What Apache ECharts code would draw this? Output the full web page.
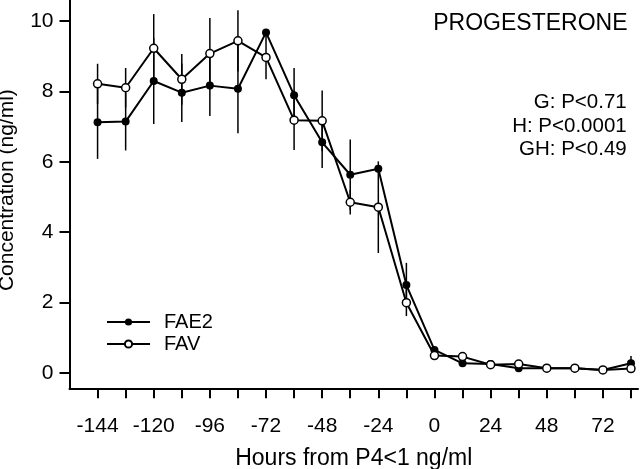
<!DOCTYPE html>
<html><head><meta charset="utf-8">
<script src="https://cdn.jsdelivr.net/npm/echarts@6/dist/echarts.min.js"></script>
<style>html,body{margin:0;padding:0;background:#fff}#c{width:640px;height:469px}</style>
</head><body><div id="c"></div>
<script>
const hours = [-144,-132,-120,-108,-96,-84,-72,-60,-48,-36,-24,-12,0,12,24,36,48,60,72,84];
const fae2 = [7.12,7.14,8.29,7.96,8.16,8.07,9.67,7.89,6.55,5.63,5.80,2.50,0.66,0.28,0.26,0.14,0.14,0.14,0.09,0.28];
const fae2Err = [1.04,0.82,1.22,0.83,0.86,1.26,0.08,0.77,0.73,1.00,0.10,0.63,0.05,0.05,0.05,0.05,0.05,0.05,0.05,0.21];
const fav = [8.21,8.10,9.22,8.34,9.07,9.43,8.96,7.18,7.16,4.85,4.71,2.00,0.50,0.47,0.24,0.26,0.14,0.14,0.09,0.13];
const favErr = [0.57,0.56,0.97,0.72,1.01,0.87,0.62,0.85,0.86,0.35,1.30,0.38,0.05,0.05,0.05,0.05,0.05,0.05,0.05,0.05];
const xTicks = [-144,-132,-120,-108,-96,-84,-72,-60,-48,-36,-24,-12,0,12,24,36,48,60,72,84];
const xLabels = [-144,-120,-96,-72,-48,-24,0,24,48,72];
const yTicks = [0,2,4,6,8,10];
const pTexts = ['G: P<0.71','H: P<0.0001','GH: P<0.49'];

const FONT = 'Liberation Sans, Arial, sans-serif';
function errSeries(vals, errs) {
  return {
    type: 'custom', silent: true, z: 1,
    data: hours.map((h, i) => [h, vals[i] - errs[i], vals[i] + errs[i]]),
    encode: {x: 0, y: [1, 2]},
    renderItem: (params, api) => {
      const a = api.coord([api.value(0), api.value(1)]);
      const b = api.coord([api.value(0), api.value(2)]);
      return {type: 'line', shape: {x1: a[0], y1: a[1], x2: b[0], y2: b[1]},
              style: {stroke: '#000', lineWidth: 1.5}};
    }
  };
}
const chart = echarts.init(document.getElementById('c'), null, {renderer: 'canvas'});
chart.setOption({
  animation: false,
  textStyle: {fontFamily: FONT, color: '#000'},
  grid: {left: 69.5, right: 2, top: 0, bottom: 80.7, containLabel: false, outerBoundsMode: 'none'},
  xAxis: {
    type: 'value', min: -156, max: 87,
    name: 'Hours from P4<1 ng/ml', nameLocation: 'middle', nameGap: 59,
    nameTextStyle: {fontSize: 23, fontFamily: FONT, color: '#000'},
    axisLine: {onZero: false, lineStyle: {color: '#000', width: 2}},
    axisTick: {customValues: xTicks, length: 10, lineStyle: {color: '#000', width: 2}},
    axisLabel: {customValues: xLabels, fontSize: 21, margin: 27, color: '#000', fontFamily: FONT},
    splitLine: {show: false}
  },
  yAxis: {
    type: 'value', min: -0.43, max: 10.59,
    name: 'Concentration (ng/ml)', nameLocation: 'middle', nameGap: 52,
    nameTextStyle: {fontSize: 21, fontFamily: FONT, color: '#000', padding: [0, 0, 0, 8]},
    axisLine: {show: true, onZero: false, lineStyle: {color: '#000', width: 2}},
    axisTick: {show: true, customValues: yTicks, length: 10, lineStyle: {color: '#000', width: 2}},
    axisLabel: {customValues: yTicks, fontSize: 21, margin: 16, color: '#000', fontFamily: FONT},
    splitLine: {show: false}
  },
  legend: {
    data: ['FAE2', 'FAV'], orient: 'vertical', left: 106, top: 312, padding: 0,
    itemWidth: 43, itemHeight: 9, itemGap: 2,
    textStyle: {fontSize: 20, lineHeight: 20, color: '#000', fontFamily: FONT, padding: [0, 0, 0, 9]}
  },
  graphic: [
    {type: 'text', style: {text: 'PROGESTERONE', x: 627.5, y: 24, align: 'right', verticalAlign: 'middle', font: '23px ' + FONT, fill: '#000'}},
    {type: 'text', style: {text: pTexts[0], x: 626.7, y: 102.5, align: 'right', verticalAlign: 'middle', font: '20.5px ' + FONT, fill: '#000'}},
    {type: 'text', style: {text: pTexts[1], x: 626.7, y: 126, align: 'right', verticalAlign: 'middle', font: '20.5px ' + FONT, fill: '#000'}},
    {type: 'text', style: {text: pTexts[2], x: 626.7, y: 149.5, align: 'right', verticalAlign: 'middle', font: '20.5px ' + FONT, fill: '#000'}}
  ],
  series: [
    errSeries(fae2, fae2Err),
    errSeries(fav, favErr),
    {name: 'FAE2', type: 'line', z: 3, data: hours.map((h, i) => [h, fae2[i]]),
     symbol: 'circle', symbolSize: 8, showAllSymbol: true,
     lineStyle: {color: '#000', width: 2}, itemStyle: {color: '#000', borderWidth: 0}},
    {name: 'FAV', type: 'line', z: 4, data: hours.map((h, i) => [h, fav[i]]),
     symbol: 'circle', symbolSize: 8, showAllSymbol: true,
     lineStyle: {color: '#000', width: 2}, itemStyle: {color: '#fff', borderColor: '#000', borderWidth: 1.5}}
  ]
});
</script></body></html>
